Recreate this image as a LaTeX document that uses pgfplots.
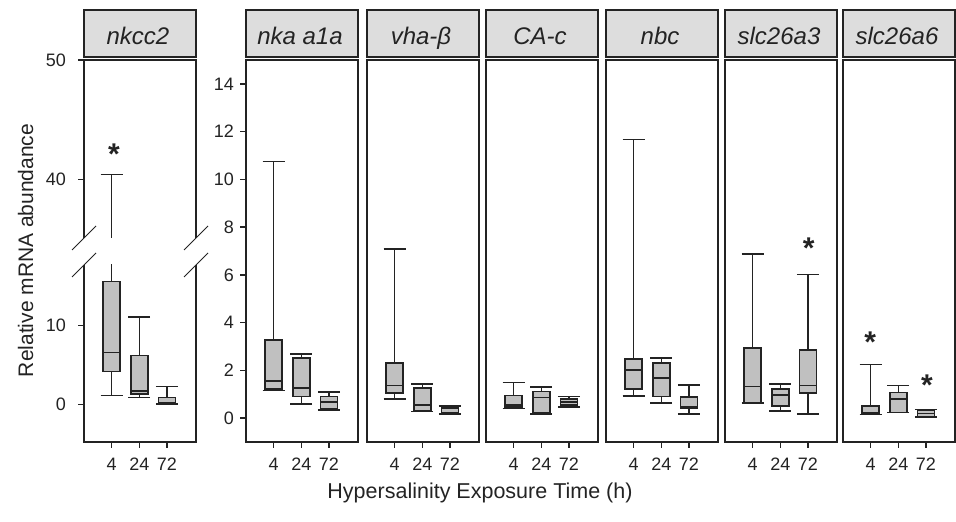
\documentclass[border=0pt]{standalone}
\usepackage{fontspec}
\setmainfont{Liberation Sans}
\usepackage{pgfplots}
\pgfplotsset{compat=1.18}
\usepgfplotslibrary{statistics}
\definecolor{lnc}{RGB}{35,35,35}
\definecolor{boxc}{RGB}{192,192,192}
\definecolor{ttl}{RGB}{221,221,221}
\definecolor{txt}{RGB}{35,35,35}

\pgfplotsset{
  panel/.style={
    scale only axis, width=112pt, height=382pt,
    anchor=south west,
    xmin=0, xmax=4.05, ymin=-1, ymax=15,
    xtick={1,2,3}, xticklabels={4,24,72},
    tick align=outside, major tick length=6pt,
    xtick pos=left, ytick pos=left,
    axis line style={lnc, line width=1.3pt},
    tick style={lnc, line width=1.3pt},
    tick label style={font=\fontsize{18}{20}\selectfont, text=txt, inner sep=0pt},
    xticklabel style={anchor=north, yshift=-10pt},
    yticklabel style={anchor=east, xshift=-6pt},
    /pgf/number format/assume math mode=true,
    ytick=\empty,
    every axis plot/.append style={line width=1.6pt},
  },
  boxplot/draw direction=y,
  boxplot/box extend=0.62,
  boxplot/whisker extend=0.8,
  boxplot/every box/.style={fill=boxc, draw=lnc, line width=1.6pt},
  boxplot/every whisker/.style={draw=lnc, line width=1.6pt},
  boxplot/every median/.style={draw=lnc, line width=1.6pt},
  boxstyle/.style={fill=boxc, draw=lnc, line width=1.6pt},
}
% position, lower whisker, lower quartile, median, upper quartile, upper whisker
\newcommand{\bxp}[6]{\addplot[boxstyle, boxplot prepared={draw position=#1,
  lower whisker=#2, lower quartile=#3, median=#4, upper quartile=#5, upper whisker=#6}]
  coordinates {};}
\newcommand{\ttlbox}[2]{%
  \draw[lnc, line width=1.3pt, fill=ttl] (#1pt,465pt) rectangle ++(112pt,47pt);
  \draw[lnc, line width=2pt] (#1pt,465pt) -- ++(112pt,0);
  \node[anchor=base, inner sep=0pt, font=\fontsize{24}{28}\selectfont\itshape, text=txt]
    at ([xshift=54pt]#1pt,477pt) {#2};}
\newcommand{\sigstar}[2]{\node[anchor=base, inner sep=0pt, yshift=-17pt,
  font=\fontsize{30}{30}\selectfont\bfseries, text=txt] at (axis cs:#1,#2) {*};}

\begin{document}
\begin{tikzpicture}[x=1pt,y=1pt]
\useasboundingbox (0,0) rectangle (956,522);

% nkcc2, lower part of the broken axis
\begin{axis}[panel, at={(84pt,80pt)}, height=177pt, ymin=-4.8, ymax=17.72,
  ytick={0,10}, yticklabel style={xshift=-6pt}, axis line style={draw=none}]
\bxp{1}{1.1}{4.15}{6.6}{15.6}{40.4}
\bxp{2}{0.85}{1.3}{1.7}{6.2}{11.1}
\bxp{3}{0.0}{0.05}{0.15}{0.85}{2.25}
\end{axis}
% nkcc2, upper part
\begin{axis}[panel, at={(84pt,284pt)}, height=178pt, ymin=35.07, ymax=50,
  ytick={40,50}, xtick=\empty, yticklabel style={xshift=-6pt}, axis line style={draw=none}]
\bxp{1}{1.1}{4.15}{6.6}{15.6}{40.4}
\sigstar{1.08}{42.7}
\end{axis}
\draw[lnc, line width=1.3pt] (84,257) -- (84,80) -- (196,80) -- (196,257);
\draw[lnc, line width=1.3pt] (84,284) -- (84,462) -- (196,462) -- (196,284);
\draw[lnc, line width=1pt] (72,272) -- (96,296) (72,245) -- (96,269)
  (184,272) -- (208,296) (184,245) -- (208,269);

% nka a1a
\begin{axis}[panel, at={(246pt,80pt)}, ytick={0,2,...,14}]
\bxp{1}{1.15}{1.21}{1.56}{3.27}{10.75}
\bxp{2}{0.58}{0.9}{1.25}{2.51}{2.69}
\bxp{3}{0.35}{0.38}{0.67}{0.9}{1.09}
\end{axis}

% vha-beta
\begin{axis}[panel, at={(367pt,80pt)}]
\bxp{1}{0.81}{1.04}{1.36}{2.3}{7.09}
\bxp{2}{0.28}{0.32}{0.56}{1.25}{1.43}
\bxp{3}{0.18}{0.21}{0.4}{0.46}{0.51}
\end{axis}

% CA-c
\begin{axis}[panel, at={(486pt,80pt)}]
\bxp{1}{0.4}{0.46}{0.56}{0.95}{1.49}
\bxp{2}{0.18}{0.23}{0.86}{1.11}{1.3}
\bxp{3}{0.46}{0.56}{0.67}{0.81}{0.9}
\end{axis}

% nbc
\begin{axis}[panel, at={(606pt,80pt)}]
\bxp{1}{0.93}{1.21}{2.02}{2.47}{11.67}
\bxp{2}{0.63}{0.9}{1.67}{2.3}{2.53}
\bxp{3}{0.18}{0.42}{0.46}{0.88}{1.38}
\end{axis}

% slc26a3
\begin{axis}[panel, at={(725pt,80pt)}]
\bxp{1}{0.63}{0.63}{1.32}{2.93}{6.87}
\bxp{2}{0.3}{0.51}{0.97}{1.21}{1.43}
\bxp{3}{0.17}{1.04}{1.36}{2.85}{6.02}
\sigstar{3.03}{7.39}
\end{axis}

% slc26a6
\begin{axis}[panel, at={(843pt,80pt)}]
\bxp{1}{0.16}{0.16}{0.22}{0.51}{2.25}
\bxp{2}{0.23}{0.23}{0.81}{1.07}{1.36}
\bxp{3}{0.04}{0.05}{0.2}{0.33}{0.36}
\sigstar{0.98}{3.48}
\sigstar{3.04}{1.67}
\end{axis}

\ttlbox{84}{nkcc2}
\ttlbox{246}{nka a1a}
\ttlbox{367}{vha-β}
\ttlbox{486}{CA-c}
\ttlbox{606}{nbc}
\ttlbox{725}{slc26a3}
\ttlbox{843}{slc26a6}

\node[rotate=90, anchor=base, inner sep=0pt, font=\fontsize{21}{24}\selectfont, text=txt]
  at (33,271.5) {Relative mRNA abundance};
\node[anchor=base, inner sep=0pt, font=\fontsize{21.5}{24}\selectfont, text=txt]
  at (480,23) {Hypersalinity Exposure Time (h)};
\end{tikzpicture}
\end{document}
